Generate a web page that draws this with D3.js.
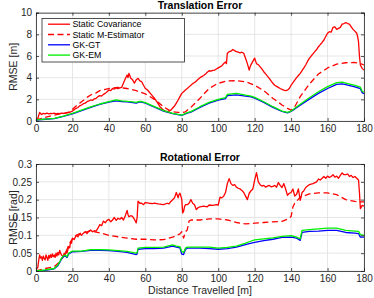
<!DOCTYPE html>
<html><head><meta charset="utf-8">
<script src="https://cdn.jsdelivr.net/npm/d3@7"></script>
<style>body{margin:0;background:#fff}svg{display:block}text{font-family:"Liberation Sans",Arial,sans-serif}</style>
</head><body>
<script>
// ---------- DATA ----------
const xTicks = [0,20,40,60,80,100,120,140,160,180];
const transTicks = [0,2,4,6,8,10];
const rotTicks = [0,0.05,0.1,0.15,0.2,0.25,0.3];
const rotTickLabels = ["0","0.05","0.1","0.15","0.2","0.25","0.3"];
const seriesNames = ["Static Covariance","Static M-Estimator","GK-GT","GK-EM"];

const transCov = [[0,0.03],[1,0.25],[2,0.8],[3,0.6],[4,0.7],[5,0.65],[6,0.72],[7,0.66],[8,0.7],[9,0.68],[10,0.72],[11,0.66],[12,0.7],[13,0.68],[14,0.73],[15,0.7],[16,0.72],[17,0.75],[18,0.78],[19,0.85],[20,0.92],[21,1.05],[22,1.17],[23,1.25],[24,1.4],[25,1.48],[26,1.6],[27,1.65],[28,1.78],[29,1.85],[30,1.94],[31,1.9],[32,2.05],[33,2.1],[34,2.25],[35,2.34],[36,2.3],[37,2.46],[38,2.55],[39,2.7],[40,2.86],[41,2.8],[42,3.0],[43,2.95],[44,3.05],[45,3.0],[46,3.05],[47,3.1],[48,3.5],[49,3.9],[50,4.25],[50.5,4.0],[51,4.4],[52,3.94],[53,3.8],[54,3.5],[55,3.8],[56,3.94],[57,3.7],[58,3.63],[59,3.3],[60,3.0],[61,2.9],[62,2.7],[63,2.5],[64,2.3],[65,2.1],[66,1.85],[67,1.6],[68,1.32],[69,1.15],[70,1.0],[71,0.92],[72,0.86],[73,0.9],[74,1.0],[75,1.2],[76,1.38],[77,1.65],[78,1.94],[79,2.25],[80,2.55],[81,2.7],[82,2.86],[83,3.0],[84,3.15],[85,3.3],[86,3.45],[87,3.55],[88,3.7],[89,3.85],[90,4.0],[91,4.1],[92,4.2],[93,4.33],[94,4.5],[95,4.64],[96,4.6],[97,4.68],[98,4.7],[99,4.8],[100,4.9],[101,5.0],[102,5.1],[103,5.3],[104,5.45],[104.5,5.3],[105,6.25],[106,6.4],[107,6.45],[108,6.6],[109,6.5],[110,6.4],[111,6.35],[112,6.3],[113,6.35],[114,6.25],[115,5.8],[116,5.3],[117,4.7],[117.5,5.0],[118,5.2],[119,5.5],[120,5.8],[121,5.3],[122,5.2],[123,5.0],[124,4.8],[125,4.55],[126,4.35],[127,4.15],[128,3.94],[129,3.7],[130,3.48],[131,3.3],[132,3.2],[133,3.1],[134,3.0],[135,2.92],[136,2.85],[137,2.8],[138,2.85],[139,3.0],[140,3.3],[141,3.55],[142,3.78],[143,4.0],[144,4.2],[145,4.4],[146,4.65],[147,4.9],[148,5.17],[149,5.5],[150,5.78],[151,6.0],[152,6.2],[153,6.4],[154,6.6],[155,6.86],[156,7.05],[157,7.25],[158,7.48],[159,7.8],[160,8.1],[161,8.25],[162,8.2],[163,8.65],[164,8.7],[165,8.46],[166,8.55],[167,8.65],[168,8.95],[169,9.0],[170,9.08],[171,9.0],[172,8.95],[173,8.7],[174,8.46],[175,8.3],[176,8.1],[176.5,7.8],[177,7.3],[177.5,6.0],[178,5.17],[179,4.86],[180,4.7]];
const transMest = [[0,0.1],[5,0.34],[10,0.55],[15,0.7],[18,0.83],[20,1.08],[22,1.38],[25,1.78],[28,2.18],[30,2.4],[33,2.6],[35,2.8],[38,2.92],[40,3.0],[45,3.1],[50,3.0],[55,2.8],[60,2.5],[65,2.0],[70,1.32],[73,1.0],[75,0.86],[78,0.8],[80,0.77],[82,0.85],[83,1.0],[85,1.26],[87,1.6],[90,2.1],[93,2.65],[95,3.0],[98,3.3],[100,3.48],[105,3.7],[110,3.72],[115,3.63],[120,3.3],[125,2.8],[130,2.1],[135,1.48],[138,1.17],[140,1.0],[142,1.32],[145,2.25],[148,2.95],[150,3.4],[155,4.34],[160,4.9],[165,5.26],[170,5.38],[175,5.4],[178,5.3],[180,5.17]];
const transGT = [[0,0.08],[5,0.16],[10,0.22],[15,0.42],[20,0.66],[25,0.96],[30,1.26],[35,1.53],[40,1.74],[44,1.86],[47,1.8],[50,1.76],[53,1.7],[55,1.66],[57,1.76],[58,1.74],[60,1.64],[65,1.28],[70,0.92],[75,0.68],[80,0.52],[83,0.72],[85,0.82],[90,1.26],[95,1.64],[100,1.92],[104,2.06],[105,2.35],[110,2.42],[115,2.3],[118,2.22],[120,2.1],[125,1.72],[130,1.26],[135,0.88],[138,0.76],[140,0.88],[145,1.46],[150,2.02],[155,2.55],[160,3.0],[165,3.38],[168,3.42],[170,3.36],[175,3.14],[178,2.98],[179,2.62],[180,2.52]];
const transEM = [[0,0.1],[5,0.18],[10,0.25],[15,0.46],[20,0.7],[25,1.0],[30,1.3],[35,1.57],[40,1.78],[44,1.94],[47,1.85],[50,1.82],[53,1.76],[55,1.72],[57,1.82],[58,1.8],[60,1.7],[65,1.32],[70,0.95],[75,0.7],[80,0.55],[83,0.77],[85,0.86],[90,1.32],[95,1.72],[100,2.0],[104,2.15],[105,2.46],[110,2.55],[115,2.38],[118,2.3],[120,2.18],[125,1.78],[130,1.32],[135,0.92],[138,0.8],[140,0.92],[145,1.54],[150,2.15],[155,2.7],[160,3.17],[165,3.54],[168,3.58],[170,3.5],[175,3.28],[178,3.12],[179,2.75],[180,2.65]];

const rotCov = [[0,0.005],[1,0.01],[1.5,0.03],[2,0.045],[2.5,0.036],[3,0.04],[3.5,0.03],[4,0.042],[4.5,0.035],[5,0.031],[5.5,0.045],[6,0.038],[6.5,0.03],[7,0.044],[7.5,0.036],[8,0.046],[8.5,0.038],[9,0.048],[9.5,0.04],[10,0.045],[10.5,0.038],[11,0.05],[11.5,0.042],[12,0.052],[12.5,0.045],[13,0.058],[13.5,0.05],[14,0.045],[15,0.04],[15.5,0.05],[16,0.046],[16.5,0.055],[17,0.05],[18,0.069],[18.5,0.065],[19,0.083],[19.5,0.078],[20,0.092],[21,0.088],[22,0.1],[23,0.096],[24,0.104],[25,0.1],[26,0.106],[27,0.11],[28,0.105],[29,0.112],[30,0.115],[31,0.11],[32,0.113],[33,0.112],[34,0.12],[35,0.13],[36,0.127],[37,0.14],[38,0.135],[39,0.142],[40,0.145],[41,0.138],[42,0.143],[43,0.15],[44,0.142],[45,0.148],[46,0.145],[47,0.15],[48,0.143],[49,0.155],[50,0.17],[50.5,0.158],[51,0.152],[52,0.155],[53,0.153],[54,0.145],[55,0.135],[55.5,0.15],[56,0.196],[57,0.19],[58,0.19],[59,0.186],[60,0.192],[62,0.19],[64,0.189],[65,0.19],[67,0.188],[70,0.186],[72,0.19],[73,0.188],[74,0.195],[75,0.2],[76,0.205],[77,0.22],[78,0.205],[78.5,0.215],[79,0.218],[79.5,0.21],[80,0.2],[80.5,0.163],[81,0.167],[81.5,0.18],[82,0.186],[83,0.186],[84,0.19],[85,0.2],[86,0.19],[87,0.186],[88,0.172],[89,0.178],[90,0.18],[92,0.182],[94,0.18],[95,0.185],[97,0.184],[99,0.186],[100,0.185],[101,0.207],[102,0.205],[103,0.21],[104,0.22],[105,0.245],[106,0.259],[107,0.245],[108,0.24],[109,0.242],[110,0.235],[111,0.232],[112,0.23],[113,0.226],[114,0.22],[115,0.21],[116,0.2],[117,0.218],[118,0.225],[119,0.23],[120,0.255],[121,0.276],[122,0.25],[123,0.242],[124,0.238],[125,0.24],[126,0.235],[127,0.238],[128,0.24],[129,0.236],[130,0.237],[131,0.24],[132,0.235],[133,0.248],[134,0.24],[135,0.234],[136,0.245],[137,0.23],[138,0.212],[139,0.218],[140,0.22],[141,0.23],[142,0.21],[143,0.215],[144,0.23],[145,0.198],[146,0.22],[147,0.225],[148,0.234],[149,0.238],[150,0.242],[152,0.245],[154,0.25],[155,0.258],[156,0.255],[157,0.26],[158,0.265],[159,0.26],[160,0.266],[161,0.262],[162,0.265],[163,0.27],[164,0.263],[165,0.266],[166,0.26],[167,0.268],[168,0.275],[169,0.27],[170,0.27],[171,0.272],[172,0.265],[173,0.268],[174,0.262],[175,0.265],[176,0.26],[177,0.255],[177.5,0.22],[178,0.175],[179,0.184],[180,0.182]];
const rotMest = [[0,0.0],[5,0.007],[10,0.012],[13,0.026],[15,0.04],[17,0.06],[18,0.074],[20,0.09],[22,0.1],[25,0.107],[30,0.112],[35,0.107],[40,0.1],[45,0.096],[50,0.092],[55,0.089],[60,0.089],[65,0.087],[70,0.088],[75,0.095],[79,0.104],[80,0.11],[81,0.092],[82,0.11],[83,0.115],[84,0.14],[85,0.143],[90,0.143],[95,0.146],[100,0.146],[105,0.143],[110,0.136],[115,0.132],[120,0.134],[125,0.136],[130,0.138],[135,0.139],[138,0.145],[140,0.153],[141,0.18],[142,0.19],[145,0.207],[150,0.216],[155,0.219],[160,0.219],[165,0.214],[170,0.2],[175,0.195],[178,0.194],[180,0.194]];
const rotGT = [[0,0],[5,0.002],[10,0.006],[12,0.015],[13,0.024],[14,0.034],[15,0.04],[16,0.043],[17,0.038],[18,0.048],[20,0.054],[25,0.055],[30,0.058],[35,0.058],[40,0.057],[45,0.055],[50,0.052],[55,0.046],[55.5,0.048],[56,0.061],[60,0.063],[65,0.063],[70,0.064],[75,0.07],[77,0.067],[79,0.065],[80,0.047],[81,0.046],[82,0.06],[83,0.064],[90,0.064],[95,0.063],[100,0.061],[105,0.063],[110,0.067],[115,0.074],[117,0.077],[120,0.08],[125,0.085],[130,0.089],[135,0.094],[140,0.095],[143,0.092],[145,0.086],[146,0.108],[150,0.111],[155,0.112],[160,0.114],[165,0.114],[170,0.108],[175,0.106],[177,0.105],[178,0.095],[180,0.095]];
const rotEM = [[0,0],[5,0.003],[10,0.007],[12,0.017],[13,0.026],[14,0.036],[15,0.042],[16,0.045],[17,0.04],[18,0.05],[20,0.056],[25,0.056],[30,0.06],[35,0.06],[40,0.059],[45,0.057],[50,0.055],[55,0.05],[55.5,0.052],[56,0.064],[60,0.066],[65,0.066],[70,0.067],[75,0.073],[77,0.07],[79,0.068],[80,0.055],[81,0.052],[82,0.064],[83,0.067],[90,0.067],[95,0.067],[100,0.064],[105,0.066],[110,0.07],[115,0.078],[117,0.082],[120,0.087],[125,0.09],[130,0.093],[135,0.097],[140,0.099],[143,0.095],[145,0.09],[146,0.114],[150,0.116],[155,0.118],[160,0.12],[165,0.12],[170,0.114],[175,0.112],[177,0.111],[178,0.102],[180,0.1]];

// ---------- STYLE ----------
const styles = [
  {color:"#ff0000", dash:null},
  {color:"#ff0000", dash:"6,3.5"},
  {color:"#0000ff", dash:null},
  {color:"#00ee00", dash:null}
];
const axisColor = "#262626", gridColor = "#dfdfdf";

const svg = d3.select("body").append("svg").attr("width",374).attr("height",298);

function panel(o){
  const x = d3.scaleLinear().domain([0,180]).range([36,364]);
  const y = d3.scaleLinear().domain([o.yTicks[0], o.yTicks[o.yTicks.length-1]]).range([o.bottom,o.top]);
  const g = svg.append("g");
  g.append("g").selectAll("line").data(xTicks).join("line")
    .attr("x1",d=>x(d)).attr("x2",d=>x(d)).attr("y1",o.top).attr("y2",o.bottom)
    .attr("stroke",gridColor).attr("stroke-width",0.8);
  g.append("g").selectAll("line").data(o.yTicks).join("line")
    .attr("x1",36).attr("x2",364).attr("y1",d=>y(d)).attr("y2",d=>y(d))
    .attr("stroke",gridColor).attr("stroke-width",0.8);
  const line = d3.line().x(d=>x(d[0])).y(d=>y(d[1]));
  o.series.forEach((s,i)=>{
    g.append("path").datum(s).attr("d",line).attr("fill","none")
      .attr("stroke",styles[i].color).attr("stroke-width",1.3)
      .attr("stroke-dasharray",styles[i].dash).attr("stroke-linejoin","round");
  });
  const fmt = (d,i)=>o.labels ? o.labels[i] : d;
  const ax = [
    g.append("g").attr("transform",`translate(0,${o.bottom})`).call(d3.axisBottom(x).tickValues(xTicks).tickSize(-3).tickPadding(4)),
    g.append("g").attr("transform",`translate(0,${o.top})`).call(d3.axisTop(x).tickValues(xTicks).tickSize(-3).tickFormat("")),
    g.append("g").attr("transform",`translate(36,0)`).call(d3.axisLeft(y).tickValues(o.yTicks).tickSize(-3).tickPadding(4).tickFormat(fmt)),
    g.append("g").attr("transform",`translate(364,0)`).call(d3.axisRight(y).tickValues(o.yTicks).tickSize(-3).tickFormat(""))
  ];
  ax.forEach(a=>{
    a.select(".domain").attr("stroke",axisColor).attr("stroke-width",0.8);
    a.selectAll(".tick line").attr("stroke",axisColor).attr("stroke-width",0.8);
    a.selectAll("text").attr("fill",axisColor).style("font-size","10px").style("font-family",'"Liberation Sans",Arial,sans-serif');
  });
  g.append("text").attr("x",200).attr("y",o.top-3.5).attr("text-anchor","middle")
    .style("font-size","10.5px").style("font-weight","bold").attr("fill","#000").text(o.title);
  g.append("text").attr("transform",`translate(16.5,${(o.top+o.bottom)/2}) rotate(-90)`)
    .attr("text-anchor","middle").style("font-size","10.5px").attr("fill",axisColor).text(o.ylabel);
  if(o.xlabel){
    g.append("text").attr("x",200).attr("y",o.bottom+23).attr("text-anchor","middle")
      .style("font-size","10.5px").attr("fill",axisColor).text(o.xlabel);
  }
  return g;
}

panel({top:12.7,bottom:121,yTicks:transTicks,title:"Translation Error",ylabel:"RMSE [m]",
  series:[transCov,transMest,transGT,transEM]});
panel({top:164,bottom:271,yTicks:rotTicks,labels:rotTickLabels,title:"Rotational Error",ylabel:"RMSE [rad]",
  xlabel:"Distance Travelled [m]", series:[rotCov,rotMest,rotGT,rotEM]});

const lg = svg.append("g");
lg.append("rect").attr("x",42).attr("y",18.5).attr("width",142.5).attr("height",43.5)
  .attr("fill","#fff").attr("stroke",axisColor).attr("stroke-width",0.8);
seriesNames.forEach((n,i)=>{
  const yy = 24.2 + i*10.3;
  lg.append("line").attr("x1",48).attr("x2",70).attr("y1",yy).attr("y2",yy)
    .attr("stroke",styles[i].color).attr("stroke-width",1.3).attr("stroke-dasharray",styles[i].dash);
  lg.append("text").attr("x",72.5).attr("y",yy).attr("dy","0.35em")
    .style("font-size","8.8px").attr("fill","#000").text(n);
});
</script>
</body></html>
